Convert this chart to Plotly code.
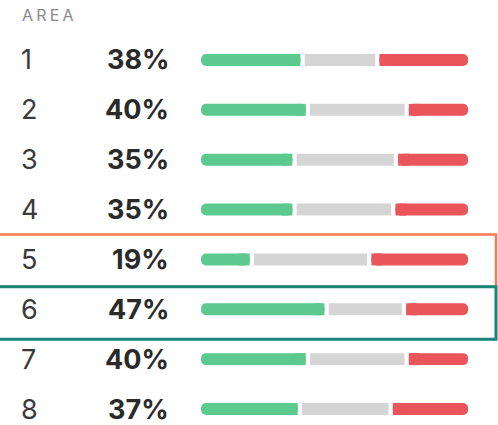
import plotly.graph_objects as go

areas = ["1", "2", "3", "4", "5", "6", "7", "8"]
green = [38, 40, 35, 35, 19, 47, 40, 37]
grey = [28, 37, 38, 37, 44, 29, 37, 34]
red = [34, 23, 27, 28, 37, 24, 23, 29]
header = "AREA"

GREEN = "#5CC98E"
GREY = "#D5D5D5"
RED = "#E9555A"
GAP = 1.6
BAR_W = 0.24
SQ = 4  # length of the square-ended cap segment (percent units)

g_end = [g - GAP / 2 for g in green]
grey_base = [g + GAP / 2 for g in green]
grey_len = [v - GAP for v in grey]
red_base = [g + v + GAP / 2 for g, v in zip(green, grey)]
red_len = [r - GAP / 2 for r in red]

fig = go.Figure()


def bar(x, base, color, radius):
    fig.add_trace(go.Bar(y=areas, x=x, base=base, orientation="h", width=BAR_W,
                         marker=dict(color=color, cornerradius=radius, line=dict(width=0)),
                         hoverinfo="skip"))


# green: rounded pill, then squared off on the right
bar(g_end, [0] * len(areas), GREEN, 6)
bar([SQ] * len(areas), [e - SQ for e in g_end], GREEN, 0)
# grey: plain
bar(grey_len, grey_base, GREY, 0)
# red: rounded pill, then squared off on the left
bar(red_len, red_base, RED, 6)
bar([SQ] * len(areas), red_base, RED, 0)

annotations = [dict(text=f'<span style="letter-spacing:3.2px">{header}</span>',
                    x=20 / 498, y=1 - 15 / 425, xref="paper", yref="paper",
                    xanchor="left", yanchor="middle", showarrow=False,
                    font=dict(family="Inter", size=16, color="#8A8A8A"))]
for i, (a, g) in enumerate(zip(areas, green)):
    annotations.append(dict(text=a, x=19 / 498, y=i, xref="paper", yref="y",
                            xanchor="left", yanchor="middle", showarrow=False,
                            font=dict(family="Inter", size=27, color="#3A3A3A")))
    annotations.append(dict(text=f"<b>{g}%</b>", x=171 / 498, y=i, xref="paper", yref="y",
                            xanchor="right", yanchor="middle", showarrow=False,
                            font=dict(family="Inter", size=27, color="#2A2A2A")))

shapes = [
    dict(type="rect", xref="paper", yref="y", x0=-0.02, x1=496 / 498, y0=3.5, y1=4.55,
         line=dict(color="#F27B52", width=2.5), fillcolor="rgba(0,0,0,0)"),
    dict(type="rect", xref="paper", yref="y", x0=-0.02, x1=496 / 498, y0=4.55, y1=5.6,
         line=dict(color="#17857A", width=3), fillcolor="rgba(0,0,0,0)"),
]

fig.update_layout(
    width=498, height=425,
    margin=dict(l=0, r=0, t=0, b=0),
    paper_bgcolor="white", plot_bgcolor="white",
    barmode="overlay", showlegend=False,
    xaxis=dict(range=[-75.3, 111.2], visible=False, fixedrange=True),
    yaxis=dict(range=[7.321, -1.203], visible=False, type="category",
               categoryorder="array", categoryarray=areas, fixedrange=True),
    annotations=annotations, shapes=shapes,
)

fig.write_html("out.html", config={"displayModeBar": False},
               post_script="document.body.style.margin='0';document.body.style.overflow='hidden';")
